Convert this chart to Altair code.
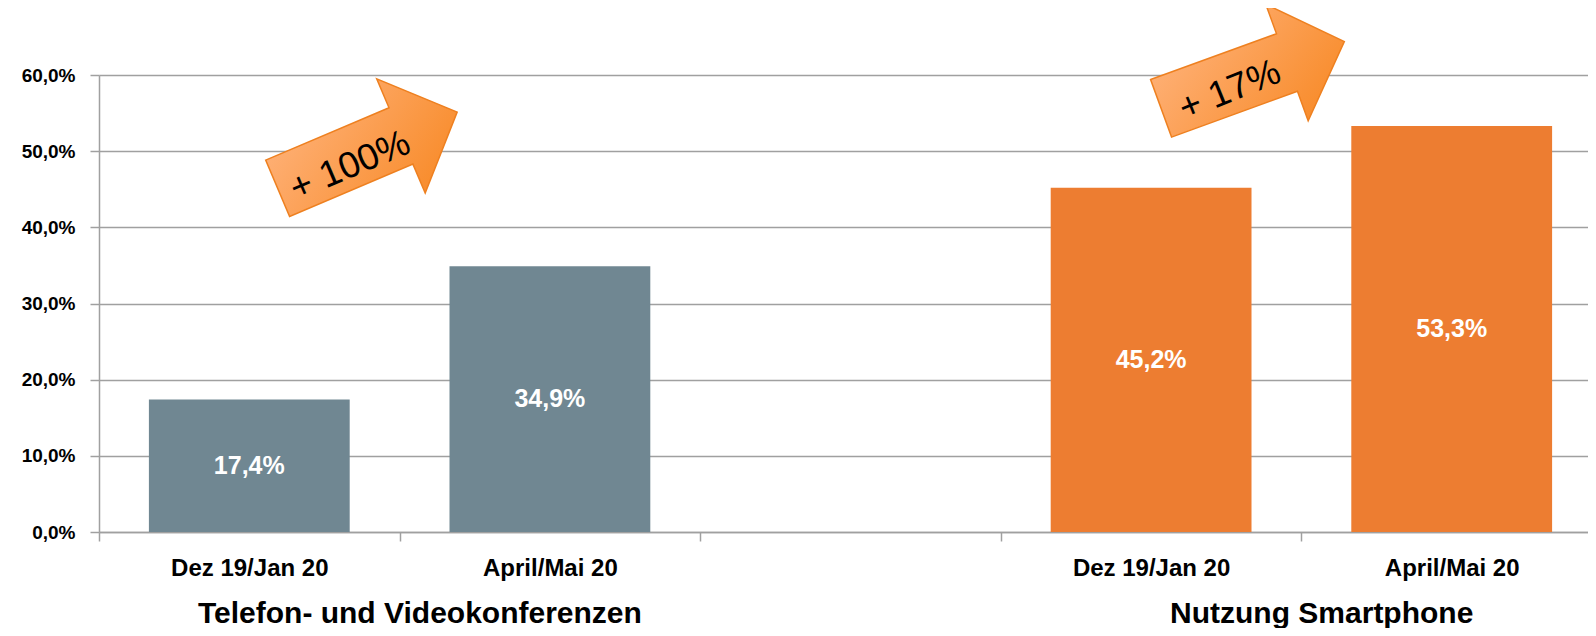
import altair as alt
import pandas as pd

# ---------------- data ----------------
categories = ["t1", "t2", "gap", "s1", "s2"]
tick_labels = ["Dez 19/Jan 20", "April/Mai 20", "", "Dez 19/Jan 20", "April/Mai 20"]
bar_categories = ["t1", "t2", "s1", "s2"]
bar_values = [0.174, 0.349, 0.452, 0.533]
bar_series = ["Telefon", "Telefon", "Smartphone", "Smartphone"]
group_titles = ["Telefon- und Videokonferenzen", "Nutzung Smartphone"]
group_title_anchor = ["t2", "s2"]
arrow_texts = ["+ 100%", "+ 17%"]
arrow_anchor = ["t2", "s2"]
arrow_level = [0.50, 0.60]
y_ticks = [0, 0.1, 0.2, 0.3, 0.4, 0.5, 0.6]

# ---------------- style ----------------
FONT = "Liberation Sans"
GRAY = "#708792"
ORANGE = "#ED7D31"
GRID = "#A0A0A0"
PLOT_W = 1489
PLOT_H = 457
ARROW_PATH = ("M -1 -0.314 L 0.374 -0.314 L 0.374 -0.636 L 1 0 "
              "L 0.374 0.636 L 0.374 0.314 L -1 0.314 Z")
arrow_style = [
    dict(xoff=-182.5, yoff=-1, angle=337, tangle=337, dx=-22, dy=8),
    dict(xoff=-199, yoff=0, angle=340, tangle=338, dx=-27, dy=6),
]

label_expr = ""
for k, lab in zip(categories, tick_labels):
    label_expr += f"datum.value == '{k}' ? '{lab}' : "
label_expr += "''"

x_scale = alt.Scale(domain=categories, range=[0, 1503], paddingInner=0, paddingOuter=0)
x_axis = alt.Axis(
    title=None, labelExpr=label_expr, tickBand="extent", labelAngle=0,
    labelFont=FONT, labelFontSize=24, labelFontWeight="bold", labelColor="black",
    labelPadding=15, tickSize=9, tickColor=GRID, tickWidth=1.5,
    domainColor=GRID, domainWidth=1.5, grid=False, labelOverlap=False,
)
y_scale = alt.Scale(domain=[0, 0.6], nice=False, zero=True)
y_axis = alt.Axis(
    title=None, values=y_ticks,
    labelExpr="replace(format(datum.value, '.1%'), '.', ',')",
    labelFont=FONT, labelFontSize=19, labelFontWeight="bold", labelColor="black",
    labelPadding=15, tickSize=9, tickColor=GRID, tickWidth=1.5,
    domainColor=GRID, domainWidth=1.5, grid=True, gridColor=GRID, gridWidth=1.5,
)

bars_df = pd.DataFrame({"key": bar_categories, "v": bar_values, "series": bar_series})

base = alt.Chart(bars_df)
bars = base.mark_bar(width=alt.RelativeBandSize(0.668)).encode(
    x=alt.X("key:N", scale=x_scale, axis=x_axis),
    y=alt.Y("v:Q", scale=y_scale, axis=y_axis),
    color=alt.Color("series:N",
                    scale=alt.Scale(domain=["Telefon", "Smartphone"], range=[GRAY, ORANGE]),
                    legend=None),
)

values_text = base.transform_calculate(
    mid="datum.v / 2",
    lab="replace(format(datum.v, '.1%'), '.', ',')",
).mark_text(font=FONT, fontSize=25, fontWeight="bold", color="white",
            baseline="middle", align="center").encode(
    x=alt.X("key:N"),
    y=alt.Y("mid:Q"),
    text="lab:N",
)

titles_df = pd.DataFrame({"key": group_title_anchor, "title": group_titles, "zero": [0, 0]})
titles = alt.Chart(titles_df).mark_text(
    font=FONT, fontSize=30, fontWeight="bold", color="black",
    baseline="middle", align="center", dx=-130, dy=82,
).encode(x=alt.X("key:N"), y=alt.Y("zero:Q"), text="title:N")

arrow_layers = []
grad = alt.LinearGradient(
    gradient="linear",
    stops=[alt.GradientStop(color="#FFB47E", offset=0),
           alt.GradientStop(color="#F7861F", offset=1)],
    x1=0, y1=0, x2=1, y2=1,
)
for i in range(len(arrow_texts)):
    st = arrow_style[i]
    adf = pd.DataFrame({"key": [arrow_anchor[i]], "lvl": [arrow_level[i]], "txt": [arrow_texts[i]]})
    ab = alt.Chart(adf)
    arrow = ab.mark_point(
        shape=ARROW_PATH, size=195 * 195, filled=True, fill=grad, opacity=1,
        stroke="#EE8020", strokeWidth=1.5, angle=st["angle"],
        xOffset=st["xoff"], yOffset=st["yoff"],
    ).encode(x=alt.X("key:N"), y=alt.Y("lvl:Q"))
    atext = ab.mark_text(
        font="Liberation Sans", fontSize=37, color="black", angle=st["tangle"],
        align="center", baseline="middle", dx=st["dx"], dy=st["dy"],
        xOffset=st["xoff"], yOffset=st["yoff"],
    ).encode(x=alt.X("key:N"), y=alt.Y("lvl:Q"), text="txt:N")
    arrow_layers += [arrow, atext]

chart = alt.layer(bars, values_text, titles, *arrow_layers).properties(
    width=PLOT_W, height=PLOT_H,
    autosize=alt.AutoSizeParams(type="none"),
    padding={"left": 91, "top": 67, "right": 0, "bottom": 96},
    background="white",
).configure_view(stroke=None)

chart.save("out.html", embed_options={"renderer": "svg", "actions": False})
